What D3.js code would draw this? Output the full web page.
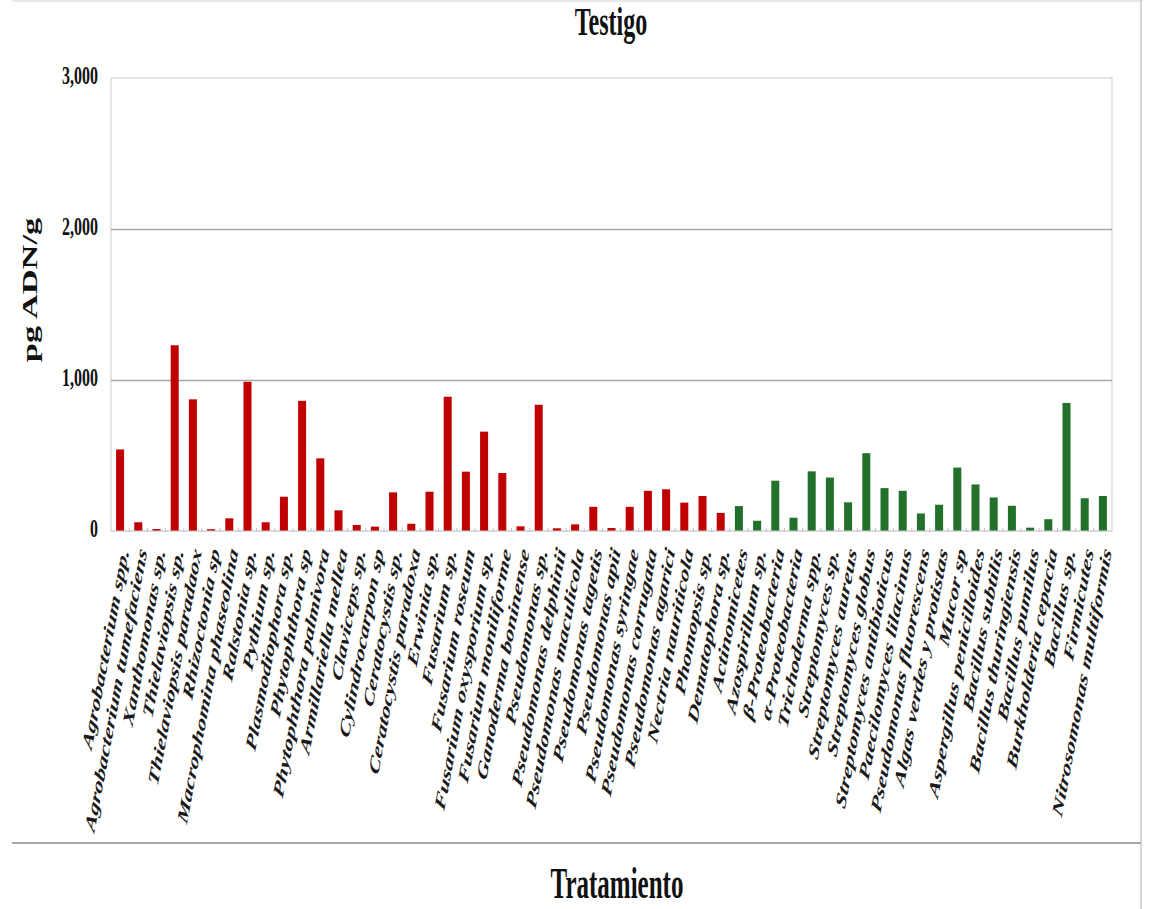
<!DOCTYPE html>
<html>
<head>
<meta charset="utf-8">
<script src="https://cdn.jsdelivr.net/npm/d3@7"></script>
<style>
  body { margin: 0; background: #fff; }
  text { font-family: "Liberation Serif", "Times New Roman", serif; }
</style>
</head>
<body>
<div id="chart"></div>
<script>
// Testigo — pg ADN/g por organismo
const patogenos = [
  "Agrobacterium spp.", "Agrobacterium tumefaciens", "Xanthomonas sp.", "Thielaviopsis sp.",
  "Thielaviopsis paradaox", "Rhizoctonia sp", "Macrophomina phaseolina", "Ralstonia sp.",
  "Pythium sp.", "Plasmodiophora sp.", "Phytophthora sp", "Phytophthora palmivora",
  "Armillariella mellea", "Claviceps sp.", "Cylindrocarpon sp", "Ceratocystis sp.",
  "Ceratocystis paradoxa", "Erwinia sp.", "Fusarium sp.", "Fusarium roseum",
  "Fusarium oxysporium sp.", "Fusarium moniliforme", "Ganoderma boninense", "Pseudomonas sp.",
  "Pseudomonas delphinii", "Pseudomonas maculicola", "Pseudomonas tagetis", "Pseudomonas apii",
  "Pseudomonas syringae", "Pseudomonas corrugata", "Pseudomonas agarici", "Nectria nauriticola",
  "Phomopsis sp.", "Dematophora sp."
];
const patogenosValues = [
  540, 58, 13, 1230, 872, 12, 84, 988, 58, 227, 862, 481,
  137, 40, 29, 256, 48, 260, 889, 393, 658, 384, 31, 836,
  18, 44, 160, 20, 160, 266, 276, 188, 232, 120
];
const beneficos = [
  "Actinomicetes", "Azospirillum sp.", "β-Proteobacteria", "α-Proteobacteria",
  "Trichoderma spp.", "Streptomyces sp.", "Streptomyces aureus", "Streptomyces globus",
  "Streptomyces antibioticus", "Paecilomyces lilacinus", "Pseudomonas fluorescens",
  "Algas verdes y protistas", "Mucor sp", "Aspergillus penicilloides", "Bacillus subtilis",
  "Bacillus thuringiensis", "Bacillus pumilus", "Burkholderia cepacia", "Bacillus sp.",
  "Firmicutes", "Nitrosomonas multiformis"
];
const beneficosValues = [
  165, 68, 333, 88, 395, 354, 190, 515, 284, 266, 116,
  174, 420, 308, 222, 167, 22, 78, 848, 217, 232
];
const yTicks = [0, 1000, 2000, 3000];

window.onload = function () {
  const W = 1153, H = 909;
  const plot = { left: 111, right: 1112, top: 78, bottom: 531 };
  const K = 1.72; // vertical stretch of the source figure

  const data = patogenos.map((n, i) => ({ name: n, value: patogenosValues[i], kind: "p" }))
    .concat(beneficos.map((n, i) => ({ name: n, value: beneficosValues[i], kind: "b" })));

  const color = d3.scaleOrdinal().domain(["p", "b"]).range(["#c00000", "#22702a"]);

  const svg = d3.select("#chart").append("svg")
    .attr("width", W).attr("height", H)
    .style("display", "block");

  // figure frame
  svg.append("line").attr("x1", 12).attr("x2", 1142).attr("y1", 1).attr("y2", 1)
    .attr("stroke", "#e0e0e0").attr("stroke-width", 1.5);
  svg.append("line").attr("x1", 1141).attr("x2", 1141).attr("y1", 0).attr("y2", H)
    .attr("stroke", "#c8c8c8").attr("stroke-width", 1.5);
  svg.append("line").attr("x1", 12).attr("x2", 1141).attr("y1", 843).attr("y2", 843)
    .attr("stroke", "#a8a8a8").attr("stroke-width", 2);

  const x = d3.scaleBand().domain(data.map(d => d.name))
    .range([plot.left, plot.right]).paddingInner(0.56).paddingOuter(0.28);
  const y = d3.scaleLinear().domain([0, 3000]).range([plot.bottom, plot.top]);

  // plot border
  svg.append("rect")
    .attr("x", plot.left).attr("y", plot.top)
    .attr("width", plot.right - plot.left).attr("height", plot.bottom - plot.top)
    .attr("fill", "none").attr("stroke", "#d4d4d4").attr("stroke-width", 1.2);

  // gridlines
  svg.append("g")
    .attr("transform", `translate(${plot.left},0)`)
    .call(d3.axisLeft(y).tickValues([1000, 2000]).tickSize(-(plot.right - plot.left)).tickFormat(""))
    .call(g => g.select(".domain").remove())
    .selectAll("line").attr("stroke", "#a6a6a6").attr("stroke-width", 1.6);

  // y tick labels
  const fmt = d3.format(",");
  svg.append("g").selectAll("g")
    .data(yTicks).enter().append("g")
    .attr("transform", d => `translate(98,${y(d) + 6}) scale(1,${K / 1.1})`)
    .append("text")
    .attr("text-anchor", "end")
    .attr("font-weight", "bold")
    .attr("font-size", "16px")
    .attr("fill", "#111")
    .text(d => fmt(d));

  // bars
  svg.append("g").selectAll("rect")
    .data(data).enter().append("rect")
    .attr("x", d => x(d.name))
    .attr("y", d => y(d.value))
    .attr("width", x.bandwidth())
    .attr("height", d => y(0) - y(d.value))
    .attr("fill", d => color(d.kind));

  // x baseline and category ticks
  svg.append("line")
    .attr("x1", plot.left).attr("x2", plot.right)
    .attr("y1", y(0)).attr("y2", y(0))
    .attr("stroke", "#cfcfd8").attr("stroke-width", 1.2);
  const step = x.step();
  svg.append("g").selectAll("line")
    .data(data.slice(1)).enter().append("line")
    .attr("x1", d => x(d.name) - step * 0.28).attr("x2", d => x(d.name) - step * 0.28)
    .attr("y1", y(0) - 3).attr("y2", y(0) + 1)
    .attr("stroke", "#c9bfd6").attr("stroke-width", 1);

  // x category labels (rotated, stretched)
  const theta = 72;
  svg.append("g").selectAll("g")
    .data(data).enter().append("g")
    .attr("transform", d => `translate(${x(d.name) + x.bandwidth() / 2 + 4},549) scale(1,${K}) rotate(-${theta})`)
    .append("text")
    .attr("text-anchor", "end")
    .attr("dy", "0.35em")
    .attr("font-weight", "bold")
    .attr("font-style", "italic")
    .attr("font-size", "15px")
    .attr("fill", "#1a1a1a")
    .text(d => d.name);

  // title
  svg.append("g").attr("transform", `translate(611,35) scale(1,1.64)`)
    .append("text").attr("text-anchor", "middle")
    .attr("font-weight", "bold").attr("font-size", "24px").attr("fill", "#111")
    .text("Testigo");

  // y axis title
  svg.append("g").attr("transform", `translate(37,290) scale(1,${K}) rotate(-90)`)
    .append("text").attr("text-anchor", "middle")
    .attr("font-weight", "bold").attr("font-size", "20px").attr("fill", "#111")
    .text("pg ADN/g");

  // x axis title
  svg.append("g").attr("transform", `translate(617,898) scale(1,1.74)`)
    .append("text").attr("text-anchor", "middle")
    .attr("font-weight", "bold").attr("font-size", "25px").attr("fill", "#111")
    .text("Tratamiento");
};
</script>
</body>
</html>
